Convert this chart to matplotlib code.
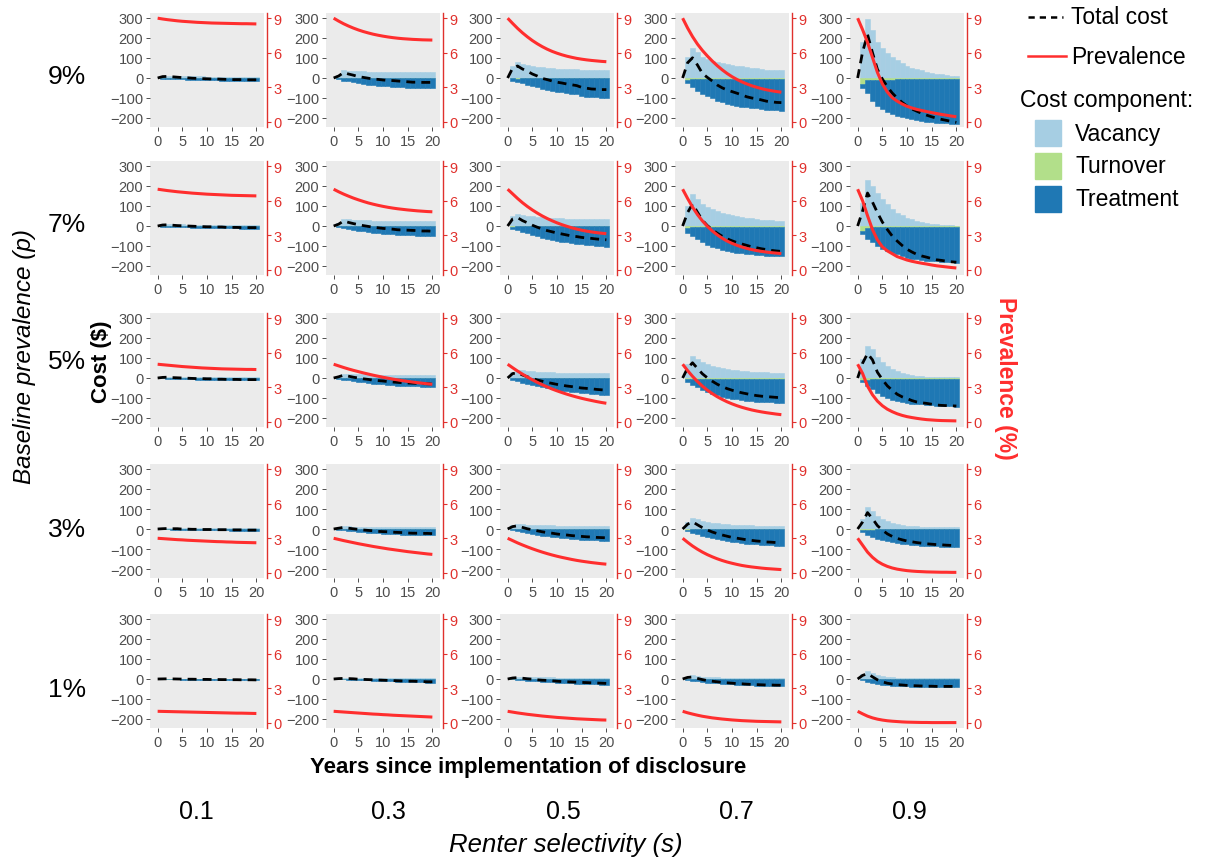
import matplotlib
matplotlib.use("Agg")
import matplotlib.pyplot as plt
from matplotlib.lines import Line2D
from matplotlib.patches import Rectangle

plt.rcParams['font.family'] = ['Liberation Sans', 'DejaVu Sans']

# ---------------- data ----------------
P_LABELS = ["9%", "7%", "5%", "3%", "1%"]          # rows: baseline prevalence
S_LABELS = ["0.1", "0.3", "0.5", "0.7", "0.9"]     # columns: renter selectivity
YEARS_BAR = list(range(1, 21))
YEARS_LINE = list(range(0, 21))
X_TICKS = [0, 5, 10, 15, 20]
Y_TICKS = [-200, -100, 0, 100, 200, 300]
Y2_TICKS = [0, 3, 6, 9]

# Vacancy cost (positive), rows p=9,7,5,3,1 ; columns s=0.1..0.9
VACANCY = [
    [[10,12,11,10,9,9,8,8,8,7,7,7,7,6,6,6,6,6,6,6],
     [15,40,37,36,34,33,32,31,31,30,30,30,29,29,29,28,28,28,28,28],
     [62,82,72,67,62,57,53,50,48,47,46,45,44,43,42,42,41,41,40,40],
     [103,148,128,103,95,87,78,73,70,67,62,58,53,50,48,45,42,41,40,40],
     [182,295,240,182,150,125,105,88,75,62,52,45,38,32,27,22,18,15,12,8]],
    [[8,10,9,8,8,7,7,7,6,6,6,6,6,5,5,5,5,5,5,5],
     [14,35,33,31,30,29,28,27,27,26,26,26,25,25,25,25,25,24,24,24],
     [48,62,55,52,48,45,43,41,40,39,38,37,36,36,35,35,35,34,34,34],
     [100,160,135,110,95,85,75,67,60,55,50,46,42,38,35,32,30,28,26,25],
     [117,228,200,167,133,108,83,67,53,42,33,25,20,17,12,8,7,5,3,2]],
    [[5,7,6,6,6,5,5,5,5,5,5,4,4,4,4,4,4,4,4,4],
     [10,22,21,20,19,18,18,17,17,17,16,16,16,15,15,15,15,15,15,15],
     [32,42,38,35,33,31,30,29,28,27,27,26,26,25,25,25,25,24,24,24],
     [70,110,95,80,70,62,55,50,45,42,39,36,34,32,30,29,28,27,26,25],
     [94,162,145,103,81,61,47,35,27,22,15,10,8,7,5,3,3,3,3,3]],
    [[3,4,4,4,3,3,3,3,3,3,3,3,3,3,3,3,3,3,3,3],
     [7,14,13,12,12,11,11,11,10,10,10,10,10,10,9,9,9,9,9,9],
     [18,27,24,22,21,20,19,18,18,17,17,17,16,16,16,16,16,15,15,15],
     [35,55,48,40,35,31,28,26,24,22,21,20,19,18,17,17,16,16,15,15],
     [50,110,90,65,50,38,30,24,20,17,15,13,12,11,10,9,9,8,8,8]],
    [[1,2,2,2,2,2,2,2,2,2,2,2,2,2,2,2,2,2,2,2],
     [3,5,5,5,4,4,4,4,4,4,4,4,4,4,4,4,4,4,4,4],
     [7,11,10,9,9,8,8,8,8,7,7,7,7,7,7,7,7,7,7,7],
     [12,18,15,12,10,9,8,7,7,6,6,6,5,5,5,5,5,5,5,5],
     [25,40,30,20,14,10,8,7,6,5,5,5,4,4,4,4,4,4,4,4]],
]

# Turnover cost (small, negative)
TURNOVER = [
    [[-1,-1,-1,-1,-1,-1,-1,-1,-1,-1,-1,-1,-1,-1,-1,-1,-1,-1,-1,-1],
     [-2,-2,-1,-1,-1,-1,-1,-1,-1,-1,-1,-1,-1,-1,-1,-1,-1,-1,-1,-1],
     [-2,-3,-2,-1,-1,-1,-1,-1,-1,-1,-1,-1,-1,-1,-1,-1,-1,-1,-1,-1],
     [-8,-6,-4,-3,-3,-3,-3,-3,-3,-3,-3,-3,-3,-3,-4,-4,-4,-4,-4,-4],
     [-30,-12,-10,-9,-8,-8,-8,-7,-7,-7,-7,-7,-7,-6,-6,-6,-6,-6,-6,-6]],
    [[-1,-1,-1,-1,-1,-1,-1,-1,-1,-1,-1,-1,-1,-1,-1,-1,-1,-1,-1,-1],
     [-2,-1,-1,-1,-1,-1,-1,-1,-1,-1,-1,-1,-1,-1,-1,-1,-1,-1,-1,-1],
     [-3,-2,-1,-1,-1,-1,-1,-1,-1,-1,-1,-1,-1,-1,-1,-1,-1,-1,-1,-1],
     [-8,-5,-4,-3,-3,-3,-3,-3,-3,-3,-3,-3,-3,-3,-3,-3,-3,-3,-3,-3],
     [-25,-10,-7,-6,-5,-5,-5,-5,-5,-5,-5,-5,-5,-5,-5,-5,-5,-5,-5,-5]],
    [[-1,-1,-1,-1,-1,-1,-1,-1,-1,-1,-1,-1,-1,-1,-1,-1,-1,-1,-1,-1],
     [-1,-1,-1,-1,-1,-1,-1,-1,-1,-1,-1,-1,-1,-1,-1,-1,-1,-1,-1,-1],
     [-2,-1,-1,-1,-1,-1,-1,-1,-1,-1,-1,-1,-1,-1,-1,-1,-1,-1,-1,-1],
     [-6,-4,-3,-3,-3,-3,-3,-3,-3,-3,-3,-3,-3,-3,-3,-3,-3,-3,-3,-3],
     [-12,-8,-6,-5,-5,-4,-4,-4,-4,-4,-4,-4,-4,-4,-4,-4,-4,-4,-4,-4]],
    [[-0.5,-0.5,-0.5,-0.5,-0.5,-0.5,-0.5,-0.5,-0.5,-0.5,-0.5,-0.5,-0.5,-0.5,-0.5,-0.5,-0.5,-0.5,-0.5,-0.5],
     [-1,-1,-1,-1,-1,-1,-1,-1,-1,-1,-1,-1,-1,-1,-1,-1,-1,-1,-1,-1],
     [-1,-1,-1,-1,-1,-1,-1,-1,-1,-1,-1,-1,-1,-1,-1,-1,-1,-1,-1,-1],
     [-3,-2,-2,-1,-1,-1,-1,-1,-1,-1,-1,-1,-1,-1,-1,-1,-1,-1,-1,-1],
     [-5,-4,-3,-2,-2,-2,-2,-2,-2,-2,-2,-2,-2,-2,-2,-2,-2,-2,-2,-2]],
    [[0,0,0,0,0,0,0,0,0,0,0,0,0,0,0,0,0,0,0,0],
     [0,0,0,0,0,0,0,0,0,0,0,0,0,0,0,0,0,0,0,0],
     [0,0,0,0,0,0,0,0,0,0,0,0,0,0,0,0,0,0,0,0],
     [-1,-1,-1,-1,-1,-1,-1,-1,-1,-1,-1,-1,-1,-1,-1,-1,-1,-1,-1,-1],
     [-2,-1,-1,-1,-1,-1,-1,-1,-1,-1,-1,-1,-1,-1,-1,-1,-1,-1,-1,-1]],
]

# Treatment cost (negative, stacked below turnover)
TREATMENT = [
    [[-2,-3,-4,-5,-6,-7,-8,-9,-10,-10,-11,-11,-12,-12,-13,-13,-13,-14,-14,-14],
     [-3,-11,-16,-21,-26,-29,-32,-35,-37,-39,-41,-42,-43,-45,-47,-48,-48,-49,-49,-49],
     [-11,-19,-25,-32,-41,-46,-54,-57,-62,-67,-70,-74,-77,-80,-88,-92,-95,-96,-97,-97],
     [-19,-41,-59,-77,-89,-99,-110,-119,-127,-132,-135,-140,-144,-147,-148,-151,-154,-156,-158,-159],
     [-22,-65,-103,-129,-147,-160,-172,-181,-190,-195,-200,-204,-208,-212,-215,-217,-219,-221,-223,-224]],
    [[-2,-3,-4,-5,-6,-6,-7,-8,-8,-9,-9,-10,-10,-11,-11,-11,-12,-12,-12,-12],
     [-3,-9,-14,-18,-22,-26,-29,-32,-35,-37,-39,-41,-43,-44,-45,-46,-47,-48,-48,-49],
     [-10,-18,-27,-35,-43,-50,-57,-63,-68,-73,-77,-81,-85,-88,-91,-94,-96,-98,-100,-102],
     [-25,-45,-62,-78,-90,-100,-108,-115,-121,-126,-130,-133,-136,-139,-141,-143,-145,-147,-148,-149],
     [-17,-53,-73,-94,-108,-120,-128,-137,-145,-153,-158,-162,-165,-168,-170,-172,-174,-176,-177,-178]],
    [[-1,-2,-3,-4,-5,-5,-6,-7,-7,-8,-8,-9,-9,-10,-10,-10,-11,-11,-11,-11],
     [-3,-7,-11,-15,-18,-21,-24,-27,-29,-31,-33,-35,-37,-38,-39,-40,-41,-42,-43,-44],
     [-8,-15,-22,-28,-34,-40,-45,-50,-54,-58,-62,-65,-68,-71,-74,-76,-78,-80,-82,-84],
     [-14,-30,-44,-56,-66,-75,-83,-90,-95,-100,-104,-107,-110,-113,-115,-117,-118,-119,-120,-121],
     [-8,-32,-48,-69,-83,-96,-104,-112,-117,-121,-124,-126,-128,-130,-132,-134,-136,-137,-138,-139]],
    [[-1,-1,-2,-2,-3,-3,-4,-4,-5,-5,-5,-6,-6,-6,-7,-7,-7,-8,-8,-8],
     [-2,-5,-8,-10,-13,-15,-17,-19,-21,-22,-23,-25,-26,-27,-28,-29,-29,-30,-30,-31],
     [-5,-10,-15,-20,-24,-28,-32,-35,-38,-41,-44,-46,-48,-50,-52,-54,-55,-56,-57,-58],
     [-8,-17,-25,-32,-39,-45,-50,-55,-59,-63,-66,-69,-72,-74,-76,-78,-80,-81,-82,-83],
     [-10,-24,-35,-46,-53,-60,-65,-69,-72,-75,-77,-79,-81,-83,-84,-85,-86,-87,-88,-88]],
    [[-0.5,-1,-1.5,-2,-2.5,-3,-3,-3.5,-4,-4,-4.5,-4.5,-5,-5,-5.5,-5.5,-6,-6,-6,-6.5],
     [-1,-2,-3,-4,-5,-6,-7,-8,-9,-10,-11,-12,-13,-14,-15,-15,-16,-17,-18,-18],
     [-2,-4,-6,-8,-10,-12,-14,-15,-17,-18,-20,-21,-22,-23,-24,-25,-26,-27,-28,-29],
     [-3,-7,-11,-14,-17,-19,-21,-23,-25,-26,-28,-29,-30,-31,-32,-33,-34,-34,-35,-35],
     [-5,-12,-18,-23,-27,-30,-32,-34,-35,-36,-37,-38,-38,-39,-39,-40,-40,-40,-40,-40]],
]

# Prevalence (%) by year 0..20
PREVALENCE = [
    [[9.0,8.93,8.87,8.82,8.77,8.73,8.70,8.67,8.64,8.62,8.60,8.58,8.57,8.56,8.55,8.54,8.53,8.52,8.52,8.51,8.50],
     [9.0,8.75,8.52,8.32,8.14,7.98,7.84,7.72,7.61,7.52,7.44,7.37,7.31,7.26,7.22,7.19,7.16,7.14,7.12,7.11,7.10],
     [9.0,8.55,8.12,7.73,7.38,7.06,6.78,6.53,6.31,6.12,5.96,5.82,5.70,5.60,5.51,5.44,5.38,5.33,5.29,5.25,5.22],
     [9.0,8.15,7.40,6.75,6.20,5.72,5.28,4.88,4.52,4.20,3.92,3.68,3.47,3.29,3.13,3.00,2.88,2.78,2.70,2.63,2.57],
     [9.0,8.0,6.9,5.6,4.3,3.3,2.6,2.1,1.8,1.55,1.35,1.2,1.08,0.98,0.89,0.80,0.72,0.64,0.57,0.50,0.44]],
    [[7.0,6.94,6.88,6.83,6.78,6.74,6.70,6.66,6.63,6.60,6.57,6.55,6.53,6.51,6.49,6.47,6.46,6.45,6.44,6.43,6.42],
     [7.0,6.78,6.58,6.40,6.23,6.08,5.94,5.81,5.70,5.60,5.51,5.43,5.36,5.30,5.25,5.20,5.16,5.12,5.09,5.06,5.04],
     [7.0,6.6,6.2,5.83,5.5,5.2,4.93,4.68,4.46,4.26,4.08,3.92,3.78,3.65,3.54,3.44,3.36,3.29,3.23,3.18,3.14],
     [7.0,6.2,5.45,4.8,4.25,3.78,3.38,3.04,2.75,2.5,2.3,2.13,1.98,1.86,1.76,1.67,1.6,1.54,1.49,1.45,1.41],
     [7.0,6.0,4.7,3.5,2.6,2.0,1.65,1.4,1.15,1.0,0.85,0.74,0.65,0.57,0.5,0.42,0.35,0.3,0.25,0.2,0.16]],
    [[5.0,4.96,4.92,4.88,4.84,4.80,4.77,4.74,4.71,4.68,4.66,4.64,4.62,4.60,4.59,4.58,4.57,4.56,4.55,4.55,4.54],
     [5.0,4.86,4.72,4.59,4.47,4.36,4.25,4.15,4.05,3.96,3.87,3.79,3.71,3.64,3.57,3.51,3.45,3.40,3.35,3.30,3.26],
     [5.0,4.7,4.41,4.14,3.89,3.65,3.43,3.22,3.03,2.85,2.69,2.54,2.40,2.27,2.15,2.04,1.94,1.85,1.76,1.68,1.61],
     [5.0,4.45,3.95,3.5,3.1,2.75,2.45,2.18,1.95,1.74,1.56,1.40,1.26,1.14,1.03,0.94,0.86,0.79,0.73,0.67,0.62],
     [5.0,4.2,3.1,2.35,1.8,1.4,1.1,0.88,0.7,0.56,0.45,0.37,0.3,0.24,0.19,0.16,0.13,0.11,0.1,0.09,0.08]],
    [[3.0,2.97,2.94,2.91,2.88,2.86,2.83,2.81,2.79,2.77,2.75,2.73,2.71,2.70,2.68,2.67,2.65,2.64,2.63,2.62,2.61],
     [3.0,2.9,2.8,2.71,2.62,2.53,2.45,2.37,2.29,2.22,2.15,2.08,2.02,1.96,1.90,1.84,1.79,1.74,1.69,1.64,1.60],
     [3.0,2.8,2.6,2.42,2.25,2.09,1.94,1.80,1.67,1.55,1.44,1.34,1.25,1.16,1.08,1.01,0.95,0.89,0.84,0.79,0.75],
     [3.0,2.65,2.33,2.05,1.8,1.58,1.39,1.22,1.07,0.94,0.83,0.73,0.64,0.57,0.51,0.46,0.41,0.37,0.34,0.31,0.28],
     [3.0,2.4,1.8,1.35,1.0,0.75,0.56,0.42,0.32,0.25,0.19,0.15,0.12,0.1,0.08,0.07,0.06,0.05,0.05,0.04,0.04]],
    [[1.0,0.99,0.98,0.97,0.96,0.95,0.94,0.93,0.92,0.91,0.9,0.89,0.88,0.87,0.86,0.85,0.84,0.84,0.83,0.82,0.81],
     [1.0,0.97,0.94,0.91,0.88,0.85,0.82,0.79,0.76,0.74,0.71,0.69,0.66,0.64,0.62,0.6,0.58,0.56,0.54,0.52,0.5],
     [1.0,0.93,0.86,0.8,0.74,0.69,0.64,0.59,0.55,0.51,0.47,0.44,0.41,0.38,0.35,0.33,0.31,0.29,0.27,0.25,0.24],
     [1.0,0.87,0.76,0.66,0.57,0.5,0.43,0.38,0.33,0.29,0.25,0.22,0.19,0.17,0.15,0.13,0.12,0.11,0.1,0.09,0.08],
     [1.0,0.78,0.58,0.43,0.32,0.24,0.18,0.14,0.11,0.08,0.06,0.05,0.04,0.03,0.03,0.02,0.02,0.02,0.02,0.02,0.02]],
]

# ---------------- style ----------------
C_VAC = '#A6CEE3'
C_TUR = '#B2DF8A'
C_TRE = '#1F78B4'
C_RED_LINE = '#FF2E2E'
C_RED_AX = '#E0312D'
C_PANEL = '#EBEBEB'
C_TICKLAB = '#4D4D4D'

W, H = 1206, 862
fig = plt.figure(figsize=(W / 100, H / 100), dpi=100)
fig.patch.set_facecolor('white')

COL_LEFT = [150, 326, 500, 675, 850]
ROW_TOP = [14, 162, 314, 465, 615]
PW, PH = 114, 114


def fx(x):
    return x / W


def fy(y):
    return 1 - y / H


for i in range(5):
    for j in range(5):
        ax = fig.add_axes([fx(COL_LEFT[j]), fy(ROW_TOP[i] + PH), PW / W, PH / H])
        ax.set_facecolor(C_PANEL)
        vac = VACANCY[i][j]
        tur = TURNOVER[i][j]
        tre = TREATMENT[i][j]
        ax.bar(YEARS_BAR, vac, width=1.0, color=C_VAC, linewidth=0.4, edgecolor=C_VAC)
        ax.bar(YEARS_BAR, tur, width=1.0, color=C_TUR, linewidth=0.4, edgecolor=C_TUR)
        ax.bar(YEARS_BAR, tre, width=1.0, bottom=tur, color=C_TRE, linewidth=0.4, edgecolor=C_TRE)
        total = [0] + [v + t + r for v, t, r in zip(vac, tur, tre)]
        ax.plot(YEARS_LINE, total, color='black', linewidth=2.0,
                linestyle=(0, (3.2, 2.2)), zorder=5)
        ax.set_xlim(-1.55, 21.55)
        ax.set_ylim(-245, 325)
        ax.set_xticks(X_TICKS)
        ax.set_yticks(Y_TICKS)
        ax.tick_params(axis='both', which='both', length=2.8, width=0.6,
                       color='#333333', labelcolor=C_TICKLAB, labelsize=10.5, pad=2)
        for s in ['top', 'right', 'left', 'bottom']:
            ax.spines[s].set_visible(False)

        ax2 = ax.twinx()
        ax2.plot(YEARS_LINE, PREVALENCE[i][j], color=C_RED_LINE, linewidth=2.2,
                 solid_capstyle='butt', zorder=6)
        ax2.set_ylim(-0.45, 9.45)
        ax2.set_yticks(Y2_TICKS)
        ax2.tick_params(axis='y', length=2.8, width=0.8, color=C_RED_AX,
                        labelcolor=C_RED_AX, labelsize=10.5, pad=2)
        for s in ['top', 'left', 'bottom']:
            ax2.spines[s].set_visible(False)
        ax2.spines['right'].set_color(C_RED_AX)
        ax2.spines['right'].set_linewidth(1.0)
        ax2.spines['right'].set_position(('outward', 2))

# row labels
ROW_LABEL_Y = [77, 225, 362, 530, 690]
for lab, y in zip(P_LABELS, ROW_LABEL_Y):
    fig.text(fx(67), fy(y), lab, fontsize=19, ha='center', va='center')

# column labels
COL_LABEL_X = [196, 388, 563, 736, 909]
for lab, x in zip(S_LABELS, COL_LABEL_X):
    fig.text(fx(x), fy(812), lab, fontsize=18, ha='center', va='center')

fig.text(fx(25), fy(357), 'Baseline prevalence (p)', fontsize=17.5, style='italic',
         rotation=90, ha='center', va='center')
fig.text(fx(566), fy(845), 'Renter selectivity (s)', fontsize=18.5, style='italic',
         ha='center', va='center')
fig.text(fx(528), fy(768), 'Years since implementation of disclosure', fontsize=16,
         fontweight='bold', ha='center', va='center')
fig.text(fx(102), fy(362), 'Cost ($)', fontsize=16, fontweight='bold',
         rotation=90, ha='center', va='center')
fig.text(fx(1005), fy(378), 'Prevalence (%)', fontsize=16.5, fontweight='bold',
         color=C_RED_LINE, rotation=270, ha='center', va='center')

# legend (manual)
fig.add_artist(Line2D([fx(1028), fx(1063)], [fy(18), fy(18)], color='black',
                      linewidth=1.8, linestyle=(0, (2.5, 2.0))))
fig.text(fx(1071), fy(18), 'Total cost', fontsize=16.5, ha='left', va='center')
fig.add_artist(Line2D([fx(1028), fx(1066)], [fy(57), fy(57)], color=C_RED_LINE,
                      linewidth=1.8))
fig.text(fx(1071), fy(57), 'Prevalence', fontsize=16.5, ha='left', va='center')
fig.text(fx(1020), fy(101), 'Cost component:', fontsize=16.5, ha='left', va='center')
LEG_ITEMS = [('Vacancy', C_VAC, 134), ('Turnover', C_TUR, 167), ('Treatment', C_TRE, 200)]
for lab, col, y in LEG_ITEMS:
    fig.add_artist(Rectangle((fx(1035), fy(y + 13)), 26 / W, 26 / H, color=col,
                             transform=fig.transFigure))
    fig.text(fx(1075), fy(y), lab, fontsize=16.5, ha='left', va='center')

fig.savefig('out.png', dpi=100)
